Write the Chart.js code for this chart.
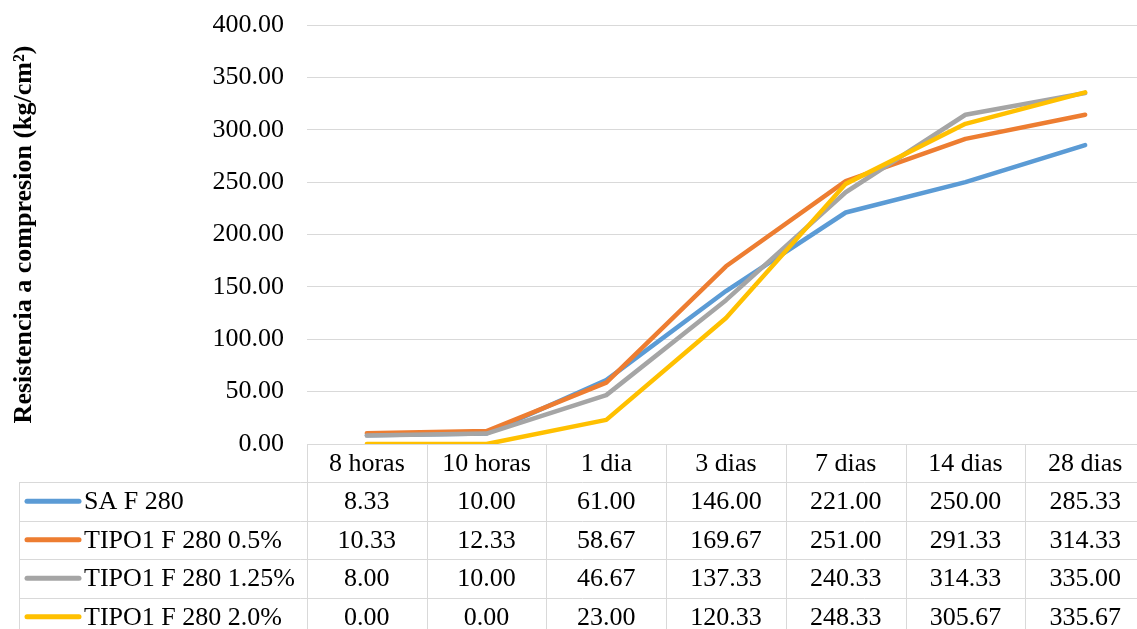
<!DOCTYPE html>
<html>
<head>
<meta charset="utf-8">
<script src="https://cdn.jsdelivr.net/npm/chart.js@4"></script>
<style>
  html, body { margin: 0; padding: 0; background: #fff; overflow: hidden; }
</style>
</head>
<body>
<canvas id="chart" width="1146" height="629"></canvas>
<script>
const edades = ["8 horas", "10 horas", "1 dia", "3 dias", "7 dias", "14 dias", "28 dias"];
const saF280 = [8.33, 10.0, 61.0, 146.0, 221.0, 250.0, 285.33];
const tipo1_05 = [10.33, 12.33, 58.67, 169.67, 251.0, 291.33, 314.33];
const tipo1_125 = [8.0, 10.0, 46.67, 137.33, 240.33, 314.33, 335.0];
const tipo1_20 = [0.0, 0.0, 23.0, 120.33, 248.33, 305.67, 335.67];
const serieNombres = ["SA F 280", "TIPO1 F 280 0.5%", "TIPO1 F 280 1.25%", "TIPO1 F 280 2.0%"];
const serieColores = ["#5B9BD5", "#ED7D31", "#A5A5A5", "#FFC000"];

const fuente = "'Liberation Serif', 'Times New Roman', serif";
const gris = "#D9D9D9";

// draws the Excel-style data table under the plot
const tablaDatos = {
  id: "tablaDatos",
  afterDraw(chart) {
    const ctx = chart.ctx;
    const area = chart.chartArea;
    const colW = (area.right - area.left) / edades.length;
    const top = area.bottom;
    const headH = 38;
    const rowH = 38.5;
    const leftX = 19;
    const series = [saF280, tipo1_05, tipo1_125, tipo1_20];

    ctx.save();
    ctx.strokeStyle = gris;
    ctx.lineWidth = 1;
    ctx.beginPath();
    for (let i = 0; i <= edades.length; i++) {
      const x = Math.round(area.left + i * colW) + 0.5;
      ctx.moveTo(x, top);
      ctx.lineTo(x, chart.height);
    }
    ctx.moveTo(leftX + 0.5, top + headH);
    ctx.lineTo(leftX + 0.5, chart.height);
    for (let r = 0; r < series.length; r++) {
      const y = Math.round(top + headH + r * rowH) + 0.5;
      ctx.moveTo(leftX, y);
      ctx.lineTo(chart.width, y);
    }
    ctx.stroke();

    ctx.fillStyle = "#000";
    ctx.font = "26px " + fuente;
    ctx.textBaseline = "middle";
    ctx.textAlign = "center";
    edades.forEach((e, i) => {
      ctx.fillText(e, area.left + (i + 0.5) * colW, top + headH / 2 + 1);
    });

    series.forEach((s, r) => {
      const yc = top + headH + (r + 0.5) * rowH + 1;
      ctx.strokeStyle = serieColores[r];
      ctx.lineWidth = 5;
      ctx.lineCap = "round";
      ctx.beginPath();
      ctx.moveTo(27, yc - 1);
      ctx.lineTo(79, yc - 1);
      ctx.stroke();
      ctx.textAlign = "left";
      ctx.fillText(serieNombres[r], 84, yc);
      ctx.textAlign = "center";
      s.forEach((v, i) => {
        ctx.fillText(v.toFixed(2), area.left + (i + 0.5) * colW, yc);
      });
    });
    ctx.restore();
  }
};

const datos = [saF280, tipo1_05, tipo1_125, tipo1_20];

new Chart(document.getElementById("chart"), {
  type: "line",
  data: {
    labels: edades,
    datasets: datos.map((d, i) => ({
      label: serieNombres[i],
      data: d,
      borderColor: serieColores[i],
      backgroundColor: serieColores[i],
      borderWidth: 4.5,
      borderCapStyle: "round",
      borderJoinStyle: "round",
      pointRadius: 0,
      tension: 0,
      order: datos.length - i,
    })),
  },
  options: {
    responsive: false,
    animation: false,
    layout: { padding: { top: 25, bottom: 185, left: 0, right: 1 } },
    plugins: {
      legend: { display: false },
      tooltip: { enabled: false },
    },
    scales: {
      x: {
        offset: true,
        ticks: { display: false },
        grid: { drawOnChartArea: false, drawTicks: false },
        border: { color: gris, width: 1 },
      },
      y: {
        min: 0,
        max: 400,
        ticks: {
          stepSize: 50,
          padding: 3,
          color: "#000",
          font: { family: fuente, size: 26 },
          callback: (v) => v.toFixed(2),
        },
        grid: { color: gris, lineWidth: 1, drawTicks: true, tickLength: 20, tickColor: "rgba(0,0,0,0)" },
        border: { display: false },
        title: {
          display: true,
          text: "Resistencia a compresion (kg/cm²)",
          color: "#000",
          font: { family: fuente, size: 26, weight: "bold" },
          padding: { top: 9, bottom: 0 },
        },
        afterFit(scale) {
          scale.width = 307;
        },
      },
    },
  },
  plugins: [tablaDatos],
});
</script>
</body>
</html>
